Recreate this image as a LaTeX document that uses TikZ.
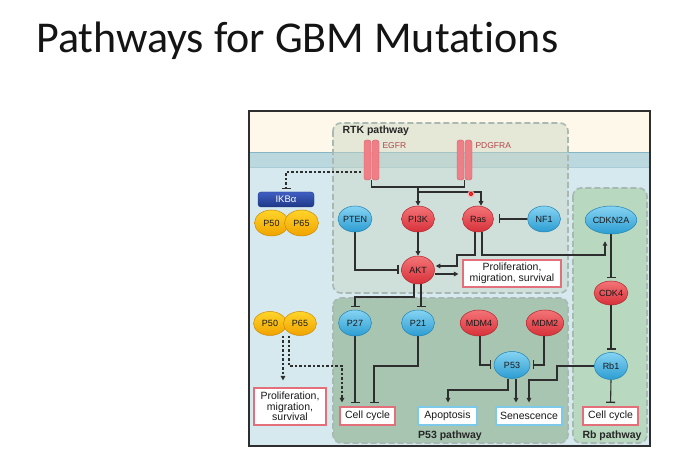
\documentclass[tikz,border=0pt]{standalone}
\usepackage{fontspec}
\setmainfont{Liberation Sans}
\newfontfamily\titlefont[RawFeature={-liga;-dlig;-clig}]{Carlito}
\usetikzlibrary{shapes.geometric,arrows.meta,calc}
\definecolor{lc}{HTML}{2E2E2E}
\definecolor{cream}{HTML}{FDF8EA}
\definecolor{membr}{HTML}{BCD8DF}
\definecolor{membl}{HTML}{86B5C4}
\definecolor{cyto}{HTML}{D5E9EF}
\definecolor{rtkf}{HTML}{C9D5C2}
\definecolor{p53f}{HTML}{A8C5B1}
\definecolor{rbf}{HTML}{B8D8BF}
\definecolor{dashc}{HTML}{A9B8B2}
\definecolor{redt}{HTML}{F37477}
\definecolor{redb}{HTML}{D8313A}
\definecolor{redd}{HTML}{B0262D}
\definecolor{bluet}{HTML}{86D3F2}
\definecolor{blueb}{HTML}{2C9DD2}
\definecolor{blued}{HTML}{2283B3}
\definecolor{yelt}{HTML}{FFD52A}
\definecolor{yelb}{HTML}{F0A200}
\definecolor{yeld}{HTML}{D08A00}
\definecolor{ikbt}{HTML}{3F5FC2}
\definecolor{ikbb}{HTML}{1E3787}
\definecolor{pinkb}{HTML}{E36F7A}
\definecolor{blueo}{HTML}{7DC9E9}
\definecolor{recf}{HTML}{EF7F87}
\definecolor{recd}{HTML}{D45C65}
\definecolor{reclab}{HTML}{B3444A}
\pgfdeclarelayer{bg}
\pgfdeclarelayer{edges}
\pgfsetlayers{bg,edges,main}
\tikzset{
  line/.style={draw=lc, line width=1.1pt},
  arr/.style={line, -{Triangle[length=4.5pt,width=4.5pt]}},
  inh/.style={line, -{Bar[width=9pt,line width=1.3pt]}, shorten >=2.5pt},
  darr/.style={arr, dash pattern=on 2.5pt off 2pt},
  dinh/.style={inh, dash pattern=on 2.5pt off 2pt},
  mol/.style={ellipse, minimum width=33pt, minimum height=26pt, inner sep=0pt,
    font=\fontsize{9}{9}\selectfont, text=black!90, line width=0.5pt},
  redm/.style={mol, top color=redt, bottom color=redb, draw=redd},
  bluem/.style={mol, top color=bluet, bottom color=blueb, draw=blued},
  yelm/.style={mol, top color=yelt, bottom color=yelb, draw=yeld, minimum width=34pt},
  outbox/.style={rectangle, fill=white, line width=1.1pt, align=center,
    font=\fontsize{10.5}{10.5}\selectfont, inner sep=1pt, text=black!90},
  pinkbox/.style={outbox, draw=pinkb},
  bluebox/.style={outbox, draw=blueo},
  region/.style={rounded corners=8pt, draw=dashc, line width=1.6pt, dash pattern=on 6pt off 3pt},
  plabel/.style={font=\bfseries\fontsize{10.5}{10.5}\selectfont, text=black!85},
  receptor/.style={fill=recf, draw=recd, line width=0.4pt, rounded corners=2.5pt},
  reclabel/.style={font=\fontsize{8.5}{8.5}\selectfont, text=reclab, anchor=west},
}
\begin{document}
\begin{tikzpicture}[x=1pt,y=-1pt]
\useasboundingbox (0,0) rectangle (683,462);
\begin{pgfonlayer}{bg}
\fill[white] (0,0) rectangle (683,462);
\fill[cream] (249,111) rectangle (650,153);
\fill[membr] (249,153) rectangle (650,168);
\fill[cyto] (249,168) rectangle (650,446);
\draw[membl, line width=1pt] (249,153) -- (650,153);
\draw[membl!70, line width=0.8pt] (249,167) -- (650,167);
\fill[rtkf, fill opacity=0.45] [rounded corners=8pt] (333,123) rectangle (568,293);
\draw[region] (333,123) rectangle (568,293);
\fill[p53f] [rounded corners=8pt] (333,298) rectangle (568,443);
\draw[region] (333,298) rectangle (568,443);
\fill[rbf] [rounded corners=8pt] (573,188) rectangle (647,443);
\draw[region] (573,188) rectangle (647,443);
\draw[lc, line width=1.3pt] (249,111) rectangle (650,446);
\end{pgfonlayer}

\node[anchor=base west, font=\titlefont\fontsize{44}{44}\selectfont, inner sep=0pt, text=black!92] (title) at (36,53) {Pathways for GBM Mutations};

\node[plabel, anchor=west] (rtklab) at (339,131) {RTK pathway};
\node[plabel] (p53lab) at (450,436) {P53 pathway};
\node[plabel] (rblab) at (612,436) {Rb pathway};

% receptors
\draw[receptor] (364,140) rectangle (371,180);
\draw[receptor] (372,140) rectangle (379,180);
\draw[receptor] (457,140) rectangle (464,180);
\draw[receptor] (465,140) rectangle (472,180);
\node[minimum width=15pt, minimum height=40pt, inner sep=0pt] (egfr) at (371.5,160) {};
\node[minimum width=15pt, minimum height=40pt, inner sep=0pt] (pdgfra) at (464.5,160) {};
\node[reclabel] (egfrlab) at (379,146) {EGFR};
\node[reclabel] (pdgfralab) at (472,146) {PDGFRA};

% molecules
\node[rectangle, rounded corners=3pt, top color=ikbt, bottom color=ikbb, draw=ikbb,
  minimum width=56pt, minimum height=15pt, inner sep=0pt, text=white,
  font=\fontsize{9.5}{9.5}\selectfont] (ikb) at (286,199.5) {IKBα};
\node[yelm] (p50a) at (271.5,223) {P50};
\node[yelm] (p65a) at (301.5,223) {P65};
\node[bluem] (pten) at (355,219) {PTEN};
\node[redm] (pi3k) at (418,219) {PI3K};
\node[redm, minimum width=31pt] (ras) at (478,219) {Ras};
\node[bluem] (nf1) at (544,219) {NF1};
\node[bluem, minimum width=41pt, minimum height=28pt] (cdkn2a) at (611,220) {CDKN2A};
\node[redm, minimum width=33pt, minimum height=28pt] (akt) at (418,270) {AKT};
\node[pinkbox, minimum width=98pt, minimum height=27pt, font=\fontsize{10.5}{11}\selectfont] (prolif1) at (512,273.5) {Proliferation,\\migration, survival};
\node[yelm, minimum width=33pt, minimum height=24pt] (p50b) at (270,323.5) {P50};
\node[yelm, minimum width=33pt, minimum height=24pt] (p65b) at (300,323.5) {P65};
\node[bluem] (p27) at (355,323) {P27};
\node[bluem] (p21) at (418,323) {P21};
\node[redm] (mdm4) at (479,323) {MDM4};
\node[redm] (mdm2) at (545,323) {MDM2};
\node[bluem, minimum width=36pt, minimum height=27pt] (p53) at (512,365) {P53};
\node[redm, minimum width=33pt, minimum height=24pt] (cdk4) at (611,293) {CDK4};
\node[bluem, minimum width=33pt, minimum height=27pt] (rb1) at (611,366) {Rb1};
\node[pinkbox, minimum width=72pt, minimum height=37pt] (prolif2) at (290,406.5) {Proliferation,\\migration,\\survival};
\node[pinkbox, minimum width=55pt, minimum height=18pt] (cc1) at (367.5,416) {Cell cycle};
\node[bluebox, minimum width=59pt, minimum height=18pt] (apop) at (447.5,416) {Apoptosis};
\node[bluebox, minimum width=66pt, minimum height=18pt] (sen) at (529,416) {Senescence};
\node[pinkbox, minimum width=55pt, minimum height=18pt] (cc2) at (610.5,416) {Cell cycle};

\begin{pgfonlayer}{edges}
% receptor junctions
\coordinate (ej) at (371.5,187);
\coordinate (pj) at (464.5,187);
\draw[line] (egfr.south) -- (ej) -- (pj) -- (pdgfra.south);
\coordinate (pk) at (418,187);
\draw[arr] (pk) -- (pi3k.north);
\coordinate (rj1) at (418,192);
\coordinate (rj2) at (481,192);
\draw[arr] (rj1) -- (rj2) -- (rj2 |- ras.north);
% IKB inhibition
\coordinate (ik1) at (361,172);
\coordinate (ik2) at (286,172);
\draw[dinh] (ik1) -- (ik2) -- (ik2 |- ikb.north);
% NF1 -| Ras
\draw[inh, shorten >=5pt] (nf1.west) -- (ras.east);
% PTEN -| AKT
\draw[inh] (pten.south) |- (akt.west);
% PI3K -> AKT
\draw[arr] (pi3k.south) -- (akt.north);
% Ras -> AKT
\coordinate (ra1) at (475,255);
\coordinate (ra2) at (457,255);
\coordinate (ra3) at (457,266);
\draw[arr, shorten >=1pt] (ras.south -| ra1) -- (ra1) -- (ra2) -- (ra3) -- (akt.east |- ra3);
% Ras -> CDKN2A
\coordinate (rc1) at (482,255);
\coordinate (rc2) at (605,255);
\draw[arr, shorten >=7pt] (ras.south -| rc1) -- (rc1) -- (rc2) -- (rc2 |- cdkn2a.south);
% AKT -> proliferation
\coordinate (ap) at (430,274);
\draw[arr, shorten >=4pt] (akt.east |- ap) -- (prolif1.west |- ap);
% AKT -| P27, P21
\coordinate (a1) at (414,297);
\coordinate (a2) at (355,297);
\draw[inh] (akt.south -| a1) -- (a1) -- (a2) -- (p27.north);
\coordinate (a3) at (421,297);
\draw[inh] (akt.south -| a3) -- (a3 |- p21.north);
% P27, P21 -| cell cycle
\draw[inh, shorten >=3.5pt] (p27.south) -- (p27.south |- cc1.north);
\coordinate (b1) at (418,366);
\coordinate (b2) at (374,366);
\draw[inh, shorten >=3.5pt] (p21.south) -- (b1) -- (b2) -- (b2 |- cc1.north);
% P50/P65 dashed
\coordinate (dl) at (283,360);
\draw[darr, shorten >=7pt] (p65b.south -| dl) -- (prolif2.north -| dl);
\coordinate (dr1) at (289,366);
\coordinate (dr2) at (342,366);
\draw[darr, shorten >=4pt] (p65b.south -| dr1) -- (dr1) -- (dr2) -- (dr2 |- cc1.north);
% MDM4, MDM2 -| P53
\coordinate (m1) at (480,365);
\draw[inh] (mdm4.south -| m1) -- (m1) -- (p53.west);
\coordinate (m2) at (544,365);
\draw[inh] (mdm2.south -| m2) -- (m2) -- (p53.east);
% P53 -> apoptosis, senescence
\coordinate (q1) at (508,390);
\coordinate (q2) at (448,390);
\draw[arr, shorten >=4pt] (p53.south -| q1) -- (q1) -- (q2) -- (q2 |- apop.north);
\coordinate (q3) at (516,390);
\draw[arr, shorten >=4pt] (p53.south -| q3) -- (q3 |- sen.north);
% Rb1 -> senescence
\coordinate (s1) at (557,366);
\coordinate (s2) at (557,380);
\coordinate (s3) at (529,380);
\draw[arr, shorten >=4pt] (rb1.west) -- (s1) -- (s2) -- (s3) -- (s3 |- sen.north);
% Rb pathway
\draw[inh] (cdkn2a.south) -- (cdk4.north);
\draw[inh] (cdk4.south) -- (rb1.north);
\draw[inh, shorten >=3.5pt] (rb1.south) -- (cc2.north);
\end{pgfonlayer}

% mutation dot
\fill[red!30, opacity=0.8] (471,194) circle (3.6);
\fill[red!90!black] (471,194) circle (2);
\fill[red!20] (471,194) circle (0.7);
\end{tikzpicture}
\end{document}
